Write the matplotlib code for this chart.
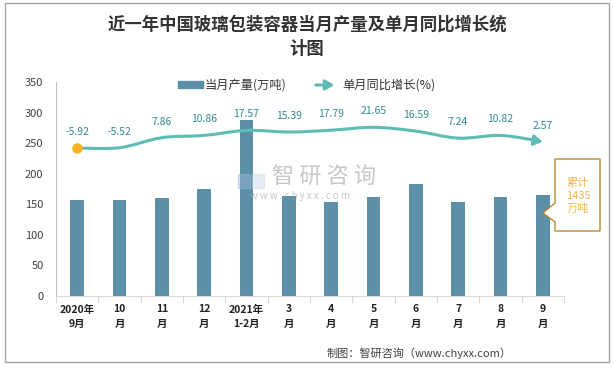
import numpy as np
import matplotlib
matplotlib.use('Agg')
import matplotlib.pyplot as plt
from matplotlib.path import Path
from matplotlib.patches import FancyArrowPatch, Rectangle, Polygon

plt.rcParams['font.family'] = ['Noto Sans CJK SC', 'DejaVu Sans']

# 数据
months = ['2020年\n9月', '10\n月', '11\n月', '12\n月', '2021年\n1-2月', '3\n月',
          '4\n月', '5\n月', '6\n月', '7\n月', '8\n月', '9\n月']
output = [157, 157, 160.5, 175, 288, 164, 154, 162, 183, 154, 162, 165]
growth = [-5.92, -5.52, 7.86, 10.86, 17.57, 15.39, 17.79, 21.65, 16.59, 7.24, 10.82, 2.57]
total_text = '累计\n1435\n万吨'

bar_color = '#5b90a8'
line_color = '#5dbdb3'
label_color = '#2f8a90'

W, H = 614, 368
fig = plt.figure(figsize=(W / 100, H / 100), dpi=100)


def px(x, y):
    # 像素坐标 -> figure坐标
    return x / W, 1 - y / H


ax = fig.add_axes([56 / W, (H - 296) / H, (564 - 56) / W, (296 - 82) / H])
x = np.arange(len(months))
ax.bar(x, output, width=0.33, color=bar_color, zorder=2)
ax.set_xlim(-0.5, len(months) - 0.5)
ax.set_ylim(0, 350)
ax.set_yticks(range(0, 351, 50))
ax.tick_params(axis='y', length=0, pad=9, labelsize=8, labelcolor='#404040')
ax.set_xticks(x)
ax.set_xticklabels(months, fontsize=7.5, fontweight='bold', color='#222222', linespacing=1.6)
ax.set_xticks(np.arange(-0.5, len(months)), minor=True)
ax.tick_params(axis='x', which='major', length=0, pad=6)
ax.tick_params(axis='x', which='minor', length=5, color='#d9d9d9', width=0.8)
for s in ['top', 'right']:
    ax.spines[s].set_visible(False)
ax.spines['left'].set_color('#bfbfbf')
ax.spines['bottom'].set_color('#d9d9d9')

# 同比折线（平滑）
ax2 = ax.twinx()
ax2.set_ylim(-203, 82)
ax2.axis('off')
pts = np.column_stack([x, growth]).astype(float)
verts = [tuple(pts[0])]
codes = [Path.MOVETO]
for i in range(len(pts) - 1):
    p0 = pts[i - 1] if i > 0 else pts[i]
    p1 = pts[i]
    p2 = pts[i + 1]
    p3 = pts[i + 2] if i + 2 < len(pts) else pts[i + 1]
    c1 = p1 + (p2 - p0) / 6
    c2 = p2 - (p3 - p1) / 6
    verts += [tuple(c1), tuple(c2), tuple(p2)]
    codes += [Path.CURVE4] * 3
arrow = FancyArrowPatch(path=Path(verts, codes), arrowstyle='-|>,head_length=5,head_width=3',
                        color=line_color, lw=2.2, transform=ax2.transData, zorder=3)
ax2.add_patch(arrow)
ax2.plot(x[0], growth[0], 'o', color='#f5b324', markersize=6.5, zorder=4)
for xi, g in zip(x, growth):
    ax2.annotate(f'{g:.2f}', (xi, g), xytext=(0, 16), textcoords='offset pixels',
                 ha='center', va='center', fontsize=7.5, color=label_color)

# 图例
fig.patches.append(Rectangle(px(178, 88), 25 / W, 7 / H, transform=fig.transFigure,
                             color=bar_color))
fig.text(*px(205, 85), '当月产量(万吨)', fontsize=8.8, va='center', color='#333333')
fig.patches.append(FancyArrowPatch(px(313, 85), px(337, 85), transform=fig.transFigure,
                                   arrowstyle='-|>,head_length=5,head_width=3',
                                   color=line_color, lw=2.2))
fig.text(*px(342, 85), '单月同比增长(%)', fontsize=8.8, va='center', color='#333333')

# 标题
fig.text(0.5, 1 - 37 / H, '近一年中国玻璃包装容器当月产量及单月同比增长统\n计图',
         ha='center', va='center', fontsize=12.5, fontweight='bold', color='#333333',
         linespacing=1.45)

# 水印
fig.patches.append(Rectangle(px(238, 188), 12 / W, 14 / H, transform=fig.transFigure,
                             color='#9fb8d6', alpha=0.45, zorder=5))
fig.patches.append(Rectangle(px(252, 188), 12 / W, 14 / H, transform=fig.transFigure,
                             color='#c6d6e8', alpha=0.45, zorder=5))
fig.text(*px(324, 177), '智 研 咨 询', fontsize=16, ha='center', va='center',
         color='#9a9a9a', alpha=0.55, zorder=5)
fig.text(*px(300, 196), 'w w w . c h y x x . c o m', fontsize=7, ha='center', va='center',
         color='#9a9a9a', alpha=0.55, zorder=5)

# 累计标注
callout = [(555, 159), (600, 159), (600, 231), (555, 231), (555, 222), (543, 213), (555, 203)]
fig.patches.append(Polygon([px(a, b) for a, b in callout], closed=True,
                           transform=fig.transFigure, facecolor='white',
                           edgecolor='#b8892e', lw=1, zorder=6))
fig.text(*px(578, 196), total_text, fontsize=8, ha='center', va='center',
         color='#f2b54a', linespacing=1.35, zorder=7)

# 来源
fig.text(*px(512, 353), '制图：智研咨询（www.chyxx.com）', fontsize=8, ha='right',
         va='center', color='#404040')

# 外框
fig.patches.append(Rectangle(px(5, 362), 604 / W, 359 / H, transform=fig.transFigure,
                             fill=False, edgecolor='#a6a6a6', lw=1))

fig.savefig('out.png', dpi=100)
